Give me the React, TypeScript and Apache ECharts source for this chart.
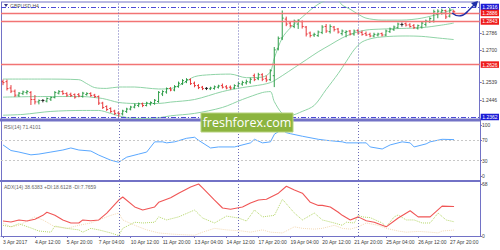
import React, { useEffect, useRef } from "react";
import * as echarts from "echarts";

// ---- data ----
const xTickLabels = [
  "3 Apr 2017", "4 Apr 12:00", "5 Apr 20:00", "7 Apr 04:00", "10 Apr 12:00",
  "11 Apr 20:00", "13 Apr 04:00", "14 Apr 12:00", "17 Apr 20:00", "19 Apr 04:00",
  "20 Apr 12:00", "21 Apr 20:00", "25 Apr 04:00", "26 Apr 12:00", "27 Apr 20:00",
];
const barSlots = 120; // 114 bars + chart shift space

// [open, close, low, high]
const ohlc: number[][] = [
  [1.2540, 1.2535, 1.2525, 1.2548], [1.2540, 1.2505, 1.2498, 1.2548], [1.2508, 1.2492, 1.2485, 1.2520],
  [1.2492, 1.2472, 1.2465, 1.2498], [1.2472, 1.2482, 1.2465, 1.2485], [1.2480, 1.2488, 1.2475, 1.2492],
  [1.2485, 1.2490, 1.2478, 1.2495], [1.2485, 1.2450, 1.2425, 1.2490], [1.2450, 1.2438, 1.2428, 1.2470],
  [1.2438, 1.2445, 1.2428, 1.2448], [1.2445, 1.2445, 1.2438, 1.2450], [1.2442, 1.2455, 1.2438, 1.2458],
  [1.2452, 1.2460, 1.2445, 1.2462], [1.2460, 1.2485, 1.2458, 1.2490], [1.2482, 1.2490, 1.2478, 1.2495],
  [1.2490, 1.2480, 1.2476, 1.2494], [1.2480, 1.2472, 1.2466, 1.2484], [1.2476, 1.2470, 1.2465, 1.2482],
  [1.2475, 1.2462, 1.2457, 1.2478], [1.2475, 1.2468, 1.2464, 1.2480], [1.2466, 1.2482, 1.2462, 1.2486],
  [1.2475, 1.2480, 1.2472, 1.2484], [1.2480, 1.2470, 1.2466, 1.2484], [1.2472, 1.2465, 1.2460, 1.2476],
  [1.2465, 1.2432, 1.2425, 1.2468], [1.2432, 1.2410, 1.2405, 1.2436], [1.2415, 1.2400, 1.2395, 1.2418],
  [1.2405, 1.2390, 1.2385, 1.2408], [1.2392, 1.2380, 1.2374, 1.2396], [1.2382, 1.2378, 1.2365, 1.2388],
  [1.2378, 1.2392, 1.2372, 1.2396], [1.2390, 1.2402, 1.2385, 1.2406], [1.2402, 1.2412, 1.2398, 1.2416],
  [1.2412, 1.2422, 1.2408, 1.2428], [1.2420, 1.2428, 1.2414, 1.2432], [1.2428, 1.2420, 1.2414, 1.2432],
  [1.2420, 1.2432, 1.2418, 1.2436], [1.2428, 1.2435, 1.2422, 1.2438], [1.2430, 1.2446, 1.2426, 1.2450],
  [1.2440, 1.2486, 1.2436, 1.2490], [1.2478, 1.2490, 1.2470, 1.2494], [1.2488, 1.2505, 1.2482, 1.2508],
  [1.2506, 1.2498, 1.2494, 1.2510], [1.2498, 1.2515, 1.2494, 1.2520], [1.2515, 1.2532, 1.2512, 1.2538],
  [1.2530, 1.2545, 1.2526, 1.2550], [1.2540, 1.2550, 1.2535, 1.2555], [1.2550, 1.2530, 1.2526, 1.2554],
  [1.2532, 1.2520, 1.2514, 1.2538], [1.2520, 1.2510, 1.2505, 1.2525], [1.2512, 1.2505, 1.2500, 1.2516],
  [1.2506, 1.2506, 1.2500, 1.2510], [1.2504, 1.2508, 1.2500, 1.2512], [1.2506, 1.2514, 1.2502, 1.2518],
  [1.2512, 1.2518, 1.2508, 1.2522], [1.2520, 1.2512, 1.2508, 1.2528], [1.2514, 1.2508, 1.2504, 1.2520],
  [1.2512, 1.2508, 1.2502, 1.2518], [1.2508, 1.2520, 1.2505, 1.2524], [1.2518, 1.2530, 1.2515, 1.2536],
  [1.2528, 1.2536, 1.2522, 1.2542], [1.2534, 1.2540, 1.2528, 1.2548], [1.2538, 1.2552, 1.2532, 1.2558],
  [1.2570, 1.2550, 1.2545, 1.2578], [1.2555, 1.2575, 1.2550, 1.2582], [1.2575, 1.2552, 1.2545, 1.2580],
  [1.2555, 1.2548, 1.2540, 1.2568], [1.2550, 1.2595, 1.2545, 1.2600], [1.2570, 1.2700, 1.2515, 1.2712],
  [1.2705, 1.2758, 1.2700, 1.2765], [1.2760, 1.2860, 1.2752, 1.2896], [1.2855, 1.2830, 1.2822, 1.2865],
  [1.2835, 1.2822, 1.2815, 1.2842], [1.2818, 1.2845, 1.2812, 1.2850], [1.2830, 1.2846, 1.2808, 1.2852],
  [1.2842, 1.2818, 1.2810, 1.2846], [1.2815, 1.2780, 1.2770, 1.2818], [1.2785, 1.2772, 1.2765, 1.2790],
  [1.2775, 1.2778, 1.2768, 1.2784], [1.2772, 1.2790, 1.2768, 1.2795], [1.2788, 1.2815, 1.2782, 1.2822],
  [1.2818, 1.2795, 1.2788, 1.2828], [1.2792, 1.2818, 1.2785, 1.2826], [1.2815, 1.2802, 1.2795, 1.2818],
  [1.2805, 1.2790, 1.2785, 1.2808], [1.2782, 1.2795, 1.2775, 1.2800], [1.2788, 1.2792, 1.2766, 1.2796],
  [1.2795, 1.2780, 1.2775, 1.2798], [1.2780, 1.2795, 1.2774, 1.2800], [1.2798, 1.2785, 1.2780, 1.2802],
  [1.2788, 1.2778, 1.2774, 1.2795], [1.2782, 1.2775, 1.2772, 1.2790], [1.2778, 1.2770, 1.2766, 1.2784],
  [1.2770, 1.2778, 1.2766, 1.2784], [1.2775, 1.2780, 1.2770, 1.2784], [1.2782, 1.2775, 1.2770, 1.2785],
  [1.2775, 1.2795, 1.2772, 1.2800], [1.2792, 1.2805, 1.2788, 1.2810], [1.2802, 1.2815, 1.2798, 1.2820],
  [1.2812, 1.2830, 1.2810, 1.2835], [1.2828, 1.2828, 1.2820, 1.2835], [1.2832, 1.2825, 1.2820, 1.2836],
  [1.2826, 1.2818, 1.2815, 1.2832], [1.2822, 1.2812, 1.2808, 1.2828], [1.2810, 1.2822, 1.2805, 1.2825],
  [1.2815, 1.2835, 1.2810, 1.2840], [1.2828, 1.2845, 1.2820, 1.2850], [1.2842, 1.2858, 1.2838, 1.2862],
  [1.2845, 1.2892, 1.2840, 1.2900], [1.2880, 1.2895, 1.2862, 1.2902], [1.2890, 1.2898, 1.2880, 1.2905],
  [1.2898, 1.2866, 1.2858, 1.2900], [1.2870, 1.2900, 1.2866, 1.2910], [1.2895, 1.2892, 1.2888, 1.2898],
];

// Bollinger bands, [bar index, price]
const bbUpper: number[][] = [
  [0, 1.2553], [10, 1.2553], [19, 1.2550], [21, 1.2530], [23, 1.2510], [26, 1.2506], [29, 1.2513],
  [33, 1.2513], [36, 1.2508], [39, 1.2503], [42, 1.2505], [45, 1.2530], [48, 1.2565], [52, 1.2575],
  [57, 1.2578], [61, 1.2560], [65, 1.2563], [67, 1.2588], [68, 1.2658], [70, 1.2760], [72, 1.2810],
  [75, 1.2865], [78, 1.2916], [80, 1.2941], [82, 1.2955], [84, 1.2950], [85, 1.2926], [87, 1.2905],
  [89, 1.2880], [91, 1.2860], [95, 1.2850], [100, 1.2850], [105, 1.2860], [110, 1.2885], [113, 1.2905],
];
const bbMiddle: number[][] = [
  [0, 1.2462], [10, 1.2465], [20, 1.2465], [23, 1.2460], [25, 1.2455], [27, 1.2445], [29, 1.2435],
  [33, 1.2430], [39, 1.2430], [42, 1.2437], [48, 1.2450], [55, 1.2490], [60, 1.2510], [65, 1.2525],
  [67, 1.2535], [68, 1.2545], [70, 1.2570], [73, 1.2610], [76, 1.2650], [79, 1.2690], [82, 1.2725],
  [85, 1.2760], [88, 1.2785], [91, 1.2800], [95, 1.2805], [100, 1.2808], [105, 1.2812], [110, 1.2825],
  [113, 1.2835],
];
const bbLower: number[][] = [
  [0, 1.2371], [5, 1.2375], [12, 1.2390], [20, 1.2395], [24, 1.2395], [27, 1.2380], [29, 1.2368],
  [33, 1.2355], [36, 1.2355], [39, 1.2358], [42, 1.2368], [48, 1.2380], [55, 1.2410], [60, 1.2450],
  [65, 1.2485], [67, 1.2490], [68, 1.2440], [70, 1.2380], [72, 1.2370], [75, 1.2390], [78, 1.2420],
  [81, 1.2500], [84, 1.2580], [86, 1.2640], [88, 1.2700], [90, 1.2740], [93, 1.2760], [97, 1.2768],
  [101, 1.2770], [105, 1.2768], [109, 1.2760], [113, 1.2752],
];

const rsi14: number[][] = [
  [0, 61], [2, 50], [4, 47], [7, 41.5], [9, 43], [12, 47], [15, 51], [17, 55], [19, 51], [22, 49],
  [24, 41], [27, 31], [29, 27], [31, 37], [34, 43], [36, 47], [38, 67], [40, 67], [41, 65], [43, 67],
  [46, 74], [48, 76], [49, 70], [52, 55], [54, 57], [58, 57], [62, 65], [63, 72], [65, 65], [67, 67],
  [68, 82], [69, 87], [70, 90], [71, 85], [72, 83], [75, 78], [79, 72], [81, 70], [85, 67], [86, 65],
  [90, 65], [91, 65], [92, 57], [95, 53], [97, 61], [100, 67], [102, 65], [103, 57], [106, 63],
  [107, 67], [110, 72], [113, 71.41],
];

const adxMain: number[][] = [
  [0, 19.6], [2, 18.3], [4, 21], [6, 19.6], [8, 22], [10, 27], [11, 31], [13, 27], [15, 21], [17, 17],
  [19, 17], [20, 21], [22, 20], [24, 21], [26, 30], [29, 47], [30, 51], [33, 38], [35, 34], [38, 38],
  [39, 44], [42, 50], [44, 56], [47, 64], [49, 68], [50, 63], [53, 47], [55, 36.6], [57, 35], [60, 38],
  [62, 43], [64, 47], [66, 48], [69, 56], [71, 65], [73, 60], [75, 56], [77, 44], [79, 40], [80, 40],
  [82, 38], [84, 31], [85, 27], [87, 21], [89, 25], [91, 20], [93, 18], [96, 12], [99, 23.5],
  [102, 33], [104, 25], [107, 25], [110, 39], [113, 38.64],
];
const plusDI: number[][] = [
  [0, 14], [2, 12], [4, 16], [7, 10.5], [9, 6.5], [12, 5], [13, 13], [16, 10], [19, 8], [20, 5],
  [22, 10], [24, 8], [27, 4], [29, 0.5], [30, 10], [33, 18], [35, 17], [38, 18], [39, 25], [41, 21],
  [44, 25], [48, 34], [50, 23.5], [53, 17], [56, 26], [59, 23.5], [61, 19.6], [63, 34], [65, 25],
  [68, 27], [70, 48], [73, 30], [75, 21], [78, 30], [80, 21], [83, 17], [85, 14], [86, 18], [88, 17],
  [89, 27], [90, 25], [92, 24], [95, 17], [96, 12], [98, 25], [99, 27.5], [101, 21], [103, 21],
  [105, 17], [107, 17], [109, 30], [111, 21], [113, 18.61],
];
const minusDI: number[][] = [
  [0, 17], [2, 12], [4, 14], [8, 25], [10, 21], [13, 12], [16, 10], [19, 14], [22, 17], [24, 21],
  [27, 27], [29, 30], [30, 21], [33, 14], [36, 8], [39, 4], [42, 2.6], [44, 2], [48, 1], [50, 5],
  [53, 10], [56, 8], [60, 6.5], [62, 5], [65, 8], [67, 5], [70, 4], [73, 12], [75, 10], [78, 9],
  [80, 10], [83, 14], [85, 10], [87, 9], [89, 12], [91, 17], [94, 14], [96, 10], [99, 6.5], [101, 5],
  [104, 6], [107, 5], [109, 4], [110, 6.5], [113, 7.77],
];

const levelValues = [1.2916, 1.2886, 1.2843, 1.2626, 1.2362];
const levelKinds = ["blue", "red", "red", "red", "blue"];
const priceTicks = [1.2446, 1.2539, 1.2700, 1.2786];
const rsiTicks = [0, 30, 70, 100];
const rsiLevels = [30, 70];
const adxTicks = [0, 68];
const weekSeparators = [29, 59, 89];

// ---- styling ----
const FRAME = "#7272c6";
const GREEN = "#2f9e4a";
const RED = "#e8393c";
const BAND = "#8fd3a6";
const LEVEL_RED = "#f27474";
const LEVEL_BLUE = "#4a4ad6";
const TXT = "#3c3c3c";
const FONT = "Liberation Sans";
const SEP_STYLE = { color: "#6a6ab8", type: [1, 2], width: 1 };

export default function App() {
  const ref = useRef<HTMLDivElement>(null);
  useEffect(() => {
    if (!ref.current) return;
    const chart = echarts.init(ref.current, null, { renderer: "svg" });
    const cats = Array.from({ length: barSlots }, (_, i) => String(i));
    const grids = [
      { left: 1, right: 20, top: 2, height: 116.5 },
      { left: 1, right: 20, top: 121.5, height: 58.5 },
      { left: 1, right: 20, top: 182, height: 54 },
    ];
    const sepData = weekSeparators.map((v) => ({ xAxis: v, lineStyle: SEP_STYLE }));
    const xAxes = grids.map((_, gi) => ({
      type: "category",
      gridIndex: gi,
      data: cats,
      boundaryGap: true,
      axisLine: { show: gi === 2, lineStyle: { color: FRAME, width: 1 } },
      axisTick: {
        show: gi === 2,
        interval: 7,
        alignWithLabel: true,
        length: 2,
        lineStyle: { color: FRAME },
      },
      axisLabel: {
        show: gi === 2,
        interval: 7,
        align: "left",
        fontSize: 5,
        fontFamily: FONT,
        color: TXT,
        margin: 3,
        formatter: (_v: string, idx: number) =>
          idx % 8 === 0 && idx / 8 < xTickLabels.length ? xTickLabels[idx / 8] : "",
      },
      splitLine: { show: false },
    }));
    const yCommon = (gi: number, min: number, max: number, ticks: number[], fmt: (v: number) => string) => ({
      type: "value",
      gridIndex: gi,
      position: "right",
      min,
      max,
      axisLine: { show: true, lineStyle: { color: FRAME, width: 1 } },
      axisTick: { show: true, length: 2, customValues: ticks, lineStyle: { color: FRAME } },
      axisLabel: {
        show: true,
        customValues: ticks,
        formatter: fmt,
        fontSize: 5,
        fontFamily: FONT,
        color: TXT,
        margin: 2,
      },
      splitLine: { show: false },
    });
    const renderBar = (params: any, api: any) => {
      const i = api.value(0);
      const o = api.value(1), c = api.value(2), l = api.value(3), h = api.value(4);
      const pl = api.coord([i, l]);
      const ph = api.coord([i, h]);
      const po = api.coord([i, o]);
      const pc = api.coord([i, c]);
      const col = c > o ? GREEN : c < o ? RED : "#222";
      const st = { stroke: col, lineWidth: 1 };
      return {
        type: "group",
        children: [
          { type: "line", shape: { x1: pl[0], y1: pl[1] + 0.5, x2: ph[0], y2: ph[1] - 0.5 }, style: st },
          { type: "line", shape: { x1: po[0] - 1.5, y1: po[1], x2: po[0], y2: po[1] }, style: st },
          { type: "line", shape: { x1: pc[0], y1: pc[1], x2: pc[0] + 1.5, y2: pc[1] }, style: st },
        ],
      };
    };
    const bandLine = (data: number[][], extra: any = {}) => ({
      type: "line",
      xAxisIndex: 0,
      yAxisIndex: 0,
      data,
      symbol: "none",
      smooth: 0.3,
      silent: true,
      lineStyle: { color: BAND, width: 1 },
      z: 1,
      ...extra,
    });
    const levelMarks = {
      silent: true,
      symbol: "none",
      precision: 4,
      z: 5,
      data: [
        ...levelValues.map((v, k) => ({
          yAxis: v,
          lineStyle: levelKinds[k] === "red"
            ? { color: LEVEL_RED, width: 1.3, type: "solid" }
            : { color: LEVEL_BLUE, width: 1, type: [5, 2, 1, 2] },
          label: {
            show: true,
            position: "end",
            distance: 1,
            formatter: v.toFixed(4),
            color: "#ffffff",
            fontSize: 5,
            fontFamily: FONT,
            backgroundColor: levelKinds[k] === "red" ? "#ee1c1c" : "#1c1cd6",
            padding: [1, 1.5, 0.5, 1.5],
          },
        })),
        ...weekSeparators.map((v) => ({ xAxis: v, label: { show: false }, lineStyle: SEP_STYLE })),
      ],
    };
    const option: any = {
      animation: false,
      backgroundColor: "#ffffff",
      grid: grids,
      xAxis: xAxes,
      yAxis: [
        yCommon(0, 1.23544, 1.29412, priceTicks, (v) => v.toFixed(4)),
        yCommon(1, -7.8, 106.9, rsiTicks, (v) => String(Math.round(v))),
        yCommon(2, 0, 70.6, adxTicks, (v) => String(Math.round(v))),
      ],
      series: [
        bandLine(bbUpper),
        bandLine(bbMiddle, { markLine: levelMarks }),
        bandLine(bbLower),
        {
          type: "custom",
          xAxisIndex: 0,
          yAxisIndex: 0,
          renderItem: renderBar,
          data: ohlc.map((d, i) => [i, d[0], d[1], d[2], d[3]]),
          encode: { x: 0, y: [1, 2, 3, 4] },
          z: 3,
        },
        {
          type: "line",
          xAxisIndex: 1,
          yAxisIndex: 1,
          data: rsi14,
          symbol: "none",
          lineStyle: { color: "#5aa8ff", width: 1 },
          markLine: {
            silent: true,
            symbol: "none",
            precision: 4,
            label: { show: false },
            data: [
              ...rsiLevels.map((v) => ({ yAxis: v, lineStyle: { color: "#c8c8c8", type: [2, 2], width: 1 } })),
              ...sepData,
            ],
          },
        },
        {
          type: "line",
          xAxisIndex: 2,
          yAxisIndex: 2,
          data: minusDI,
          symbol: "none",
          lineStyle: { color: "#f3d9b5", width: 1, type: [1, 1] },
        },
        {
          type: "line",
          xAxisIndex: 2,
          yAxisIndex: 2,
          data: plusDI,
          symbol: "none",
          lineStyle: { color: "#b5d66a", width: 1, type: [1, 1] },
        },
        {
          type: "line",
          xAxisIndex: 2,
          yAxisIndex: 2,
          data: adxMain,
          symbol: "none",
          lineStyle: { color: "#f05656", width: 1.1 },
          markLine: { silent: true, symbol: "none", label: { show: false }, data: sepData },
        },
      ],
      graphic: [
        // frame
        { type: "line", shape: { x1: 1, y1: 2, x2: 480, y2: 2 }, style: { stroke: FRAME, lineWidth: 1 }, silent: true },
        { type: "line", shape: { x1: 1.5, y1: 2, x2: 1.5, y2: 236 }, style: { stroke: FRAME, lineWidth: 1 }, silent: true },
        { type: "rect", shape: { x: 0, y: 118.5, width: 481, height: 3 }, style: { fill: FRAME }, silent: true },
        { type: "rect", shape: { x: 0, y: 180, width: 481, height: 2 }, style: { fill: FRAME }, silent: true },
        // symbol title
        { type: "polygon", shape: { points: [[4, 4], [8, 4], [6, 7]] }, style: { fill: "#3a3a8a" }, silent: true },
        {
          type: "text", x: 10, y: 3,
          style: { text: "GBPUSD,H4", fontSize: 5, fontFamily: FONT, fill: "#555" }, silent: true,
        },
        {
          type: "text", x: 4, y: 124.5,
          style: { text: "RSI(14) 71.4101", fontSize: 5, fontFamily: FONT, fill: "#666" }, silent: true,
        },
        {
          type: "text", x: 4, y: 184,
          style: { text: "ADX(14) 38.6383 +DI:18.6128 -DI:7.7659", fontSize: 5, fontFamily: FONT, fill: "#666" },
          silent: true,
        },
        // forecast arrow
        {
          type: "bezierCurve",
          shape: { x1: 452, y1: 13, x2: 468, y2: 11, cpx1: 458, cpy1: 18, cpx2: 464, cpy2: 16 },
          style: { stroke: "#1f2fa8", lineWidth: 1.4, fill: null }, silent: true, z: 20,
        },
        {
          type: "line", shape: { x1: 468, y1: 11, x2: 475, y2: 4 },
          style: { stroke: "#1f2fa8", lineWidth: 1.4 }, silent: true, z: 20,
        },
        {
          type: "polygon", shape: { points: [[478, 1], [471, 3], [476, 8]] },
          style: { fill: "#1f2fa8" }, silent: true, z: 20,
        },
        // watermark
        {
          type: "rect", shape: { x: 201, y: 113, width: 92, height: 19 },
          style: { fill: "#8cb43f", stroke: "#b7d37e", lineWidth: 1 }, silent: true, z: 30,
        },
        {
          type: "text", x: 247, y: 122.5,
          style: {
            text: "freshforex.com", fontSize: 12.5, fontFamily: "Open Sans", fill: "#ffffff",
            align: "center", verticalAlign: "middle",
          },
          silent: true, z: 31,
        },
      ],
    };
    chart.setOption(option);
    return () => chart.dispose();
  }, []);
  return (
    <div
      ref={ref}
      style={{ position: "fixed", left: 0, top: 0, width: 500, height: 250, background: "#fff" }}
    />
  );
}
